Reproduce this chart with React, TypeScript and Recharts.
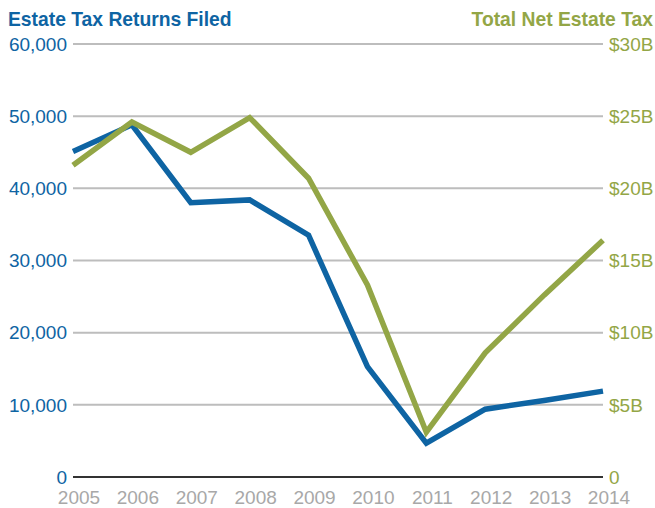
import { LineChart, Line, XAxis, YAxis, CartesianGrid } from 'recharts';

// years and the two series
const years = ['2005', '2006', '2007', '2008', '2009', '2010', '2011', '2012', '2013', '2014'];
const returnsFiled = [45100, 48800, 38000, 38400, 33500, 15300, 4700, 9400, 10600, 11900];
const netTaxBillions = [21.6, 24.6, 22.5, 24.9, 20.7, 13.3, 3.1, 8.6, 12.6, 16.4];

const leftTicks = [0, 10000, 20000, 30000, 40000, 50000, 60000];
const rightTicks = [0, 5, 10, 15, 20, 25, 30];

const BLUE = '#0e64a3';
const GREEN = '#93a646';
const FONT = '"Liberation Sans", Arial, sans-serif';

const data = years.map((year, i) => ({
  year,
  returns: returnsFiled[i],
  tax: netTaxBillions[i],
}));

export default function App() {
  return (
    <div style={{ position: 'absolute', left: 0, top: 0, width: 655, height: 508, background: '#fff', fontFamily: FONT }}>
      <div style={{ position: 'absolute', left: 8, top: 8, fontSize: 19.3, fontWeight: 700, color: BLUE, lineHeight: '24px' }}>
        Estate Tax Returns Filed
      </div>
      <div style={{ position: 'absolute', right: 2, top: 8, fontSize: 19.3, fontWeight: 700, color: GREEN, lineHeight: '24px' }}>
        Total Net Estate Tax
      </div>
      <LineChart width={655} height={508} data={data} margin={{ top: 44, right: 0, bottom: 0, left: 0 }}>
        <CartesianGrid yAxisId="left" vertical={false} stroke="#bdbdbd" strokeWidth={2} />
        <XAxis
          dataKey="year"
          height={31}
          tickLine={false}
          tickSize={0}
          tickMargin={14}
          axisLine={{ stroke: '#333', strokeWidth: 2 }}
          tick={{ fill: '#a8a8a8', fontSize: 19, fontFamily: FONT, dx: 6 }}
          interval={0}
        />
        <YAxis
          yAxisId="left"
          width={73}
          domain={[0, 60000]}
          ticks={leftTicks}
          axisLine={false}
          tickLine={false}
          tickSize={0}
          tickMargin={6}
          tick={{ fill: BLUE, fontSize: 19, fontFamily: FONT }}
          tickFormatter={(v: number) => v.toLocaleString('en-US')}
        />
        <YAxis
          yAxisId="right"
          orientation="right"
          width={52}
          domain={[0, 30]}
          ticks={rightTicks}
          axisLine={false}
          tickLine={false}
          tickSize={0}
          tickMargin={6}
          tick={{ fill: GREEN, fontSize: 19, fontFamily: FONT, textAnchor: 'start' }}
          tickFormatter={(v: number) => (v === 0 ? '0' : `$${v}B`)}
        />
        <Line yAxisId="left" dataKey="returns" stroke={BLUE} strokeWidth={5.5} dot={false} isAnimationActive={false} />
        <Line yAxisId="right" dataKey="tax" stroke={GREEN} strokeWidth={5.5} dot={false} isAnimationActive={false} />
      </LineChart>
    </div>
  );
}
